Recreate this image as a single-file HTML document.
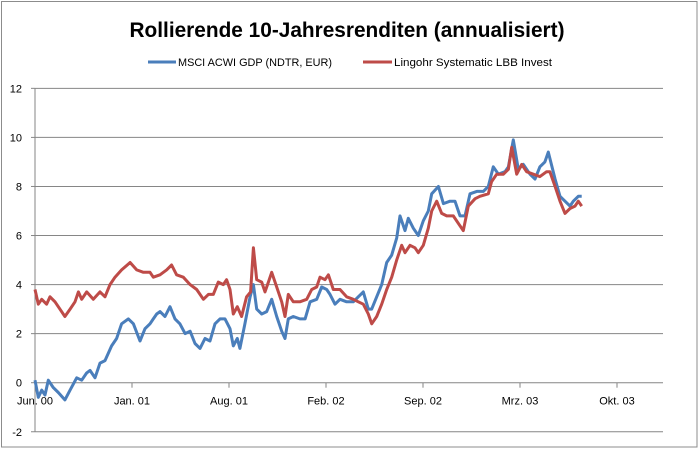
<!DOCTYPE html>
<html><head><meta charset="utf-8"><style>
html,body{margin:0;padding:0;background:#fff}
svg{display:block;font-family:"Liberation Sans",sans-serif}
</style></head><body>
<svg id="chart" width="699" height="449">
<rect x="1.5" y="1.5" width="695.5" height="445.5" fill="#fff" stroke="#8c8c8c"/>
<text x="347" y="37" text-anchor="middle" font-size="21" font-weight="bold" textLength="435" lengthAdjust="spacingAndGlyphs">Rollierende 10-Jahresrenditen (annualisiert)</text>
<g>
<g><line x1="148" y1="62" x2="176" y2="62" stroke="#4a7ebb" stroke-width="3"/><text x="178" y="66" font-size="11" textLength="154" lengthAdjust="spacingAndGlyphs">MSCI ACWI GDP  (NDTR, EUR)</text></g>
<g><line x1="363" y1="62" x2="392" y2="62" stroke="#be4b48" stroke-width="3"/><text x="394" y="66" font-size="11" textLength="158" lengthAdjust="spacingAndGlyphs">Lingohr Systematic  LBB Invest</text></g>
</g>
<g id="grid"></g>
<g id="axes"></g>
<g id="series"></g>
</svg>
<script>
const yTicks=[-2,0,2,4,6,8,10,12];
const xTickMonths=[0,7,14,21,28,35,42];
const xTickLabels=["Jun. 00","Jan. 01","Aug. 01","Feb. 02","Sep. 02","Mrz. 03","Okt. 03"];
const msciMonths=[0,0.24,0.48,0.72,0.96,1.32,1.68,2.16,2.53,3.01,3.37,3.73,3.97,4.33,4.69,5.05,5.53,5.89,6.25,6.74,7.10,7.58,7.94,8.30,8.54,8.78,9.02,9.38,9.74,10.10,10.46,10.83,11.19,11.55,11.91,12.27,12.63,12.99,13.35,13.71,14.07,14.31,14.60,14.79,15.15,15.52,15.76,16.00,16.36,16.72,17.08,17.44,17.80,18.04,18.28,18.64,19.12,19.49,19.85,20.33,20.69,21.05,21.29,21.65,22.01,22.49,22.97,23.33,23.69,24.05,24.30,24.66,25.02,25.38,25.74,26.10,26.34,26.70,26.94,27.30,27.66,28.02,28.38,28.63,29.11,29.47,29.95,30.31,30.67,31.03,31.39,31.88,32.35,32.71,33.07,33.44,33.92,34.16,34.52,34.88,35.24,35.72,36.08,36.44,36.80,37.04,37.53,37.89,38.25,38.61,38.85,39.21,39.45];
const msciValues=[0.1,-0.6,-0.3,-0.5,0.1,-0.2,-0.4,-0.7,-0.3,0.2,0.1,0.4,0.5,0.2,0.8,0.9,1.5,1.8,2.4,2.6,2.4,1.7,2.2,2.4,2.6,2.8,2.9,2.7,3.1,2.6,2.4,2.0,2.1,1.6,1.4,1.8,1.7,2.4,2.6,2.6,2.2,1.5,1.8,1.4,2.4,3.5,4.0,3.0,2.8,2.9,3.4,2.7,2.1,1.8,2.6,2.7,2.6,2.6,3.3,3.4,3.9,3.8,3.6,3.2,3.4,3.3,3.3,3.5,3.7,3.0,3.0,3.5,4.0,4.9,5.2,5.9,6.8,6.2,6.7,6.3,6.0,6.6,7.0,7.7,8.0,7.3,7.4,7.4,6.8,6.8,7.7,7.8,7.8,8.0,8.8,8.5,8.6,8.8,9.9,8.7,8.9,8.5,8.3,8.8,9.0,9.4,8.3,7.6,7.4,7.2,7.4,7.6,7.6];
const lingohrMonths=[0,0.24,0.48,0.84,1.08,1.44,1.80,2.16,2.53,2.89,3.13,3.37,3.73,4.21,4.69,5.05,5.41,5.77,6.25,6.86,7.34,7.82,8.30,8.54,9.02,9.50,9.86,10.22,10.70,11.19,11.67,12.15,12.51,12.87,13.23,13.59,13.83,14.07,14.31,14.60,14.91,15.27,15.56,15.76,16.00,16.36,16.60,16.84,17.08,17.44,17.80,18.04,18.28,18.64,19.12,19.61,19.97,20.33,20.57,20.93,21.17,21.53,22.01,22.49,22.97,23.33,23.69,24.05,24.30,24.66,25.02,25.38,25.74,26.10,26.46,26.70,27.06,27.42,27.66,28.02,28.38,28.63,28.99,29.35,29.71,30.19,30.55,30.91,31.27,31.76,32.11,32.71,32.95,33.32,33.80,34.16,34.40,34.76,35.12,35.48,35.96,36.44,36.92,37.16,37.53,37.89,38.25,38.61,38.97,39.21,39.45];
const lingohrValues=[3.8,3.2,3.4,3.2,3.5,3.3,3.0,2.7,3.0,3.3,3.7,3.4,3.7,3.4,3.7,3.5,4.0,4.3,4.6,4.9,4.6,4.5,4.5,4.3,4.4,4.6,4.8,4.4,4.3,4.0,3.8,3.4,3.6,3.6,4.1,4.0,4.2,3.8,2.8,3.1,2.7,3.5,3.7,5.5,4.2,4.1,3.7,4.1,4.5,3.9,3.3,2.7,3.6,3.3,3.3,3.4,3.8,3.9,4.3,4.2,4.4,3.8,3.8,3.5,3.4,3.3,3.2,2.8,2.4,2.7,3.2,3.8,4.3,5.0,5.6,5.3,5.6,5.5,5.3,5.6,6.3,7.0,7.4,6.9,6.8,6.8,6.5,6.2,7.2,7.5,7.6,7.7,8.2,8.5,8.5,8.7,9.6,8.5,8.9,8.6,8.5,8.4,8.6,8.6,8.0,7.4,6.9,7.1,7.2,7.4,7.2];

const NS="http://www.w3.org/2000/svg";
const X0=35,X1=663,Y0=382.7,PXU=24.53,PXM=13.857;
function xs(m){return X0+m*PXM;}
function ys(v){return Y0-v*PXU;}
function mk(tag,parent,attrs){const e=document.createElementNS(NS,tag);for(const k in attrs)e.setAttribute(k,attrs[k]);parent.appendChild(e);return e;}
const grid=document.getElementById('grid'),axes=document.getElementById('axes'),ser=document.getElementById('series');
yTicks.forEach(v=>{
  if(v!==0){const l=mk('line',grid,{x1:X0,x2:X1,y1:ys(v),y2:ys(v),stroke:'#868686','stroke-width':1});
  
  }
  const tk=mk('line',axes,{x1:X0-4,x2:X0,y1:ys(v),y2:ys(v),stroke:'#868686'});
  
  
  const t=mk('text',axes,{x:22,y:ys(v)+4,'text-anchor':'end','font-size':11});
  t.textContent=v;
  
  
});
const ya=mk('line',axes,{x1:X0,x2:X0,y1:ys(12),y2:ys(-2),stroke:'#868686'});


const xa=mk('line',axes,{x1:X0,x2:X1,y1:ys(0),y2:ys(0),stroke:'#868686'});


xTickMonths.forEach((m,i)=>{
  const tk=mk('line',axes,{x1:xs(m),x2:xs(m),y1:ys(0),y2:ys(0)+5,stroke:'#868686'});
  
  
  const t=mk('text',axes,{x:xs(m),y:ys(0)+22,'text-anchor':'middle','font-size':11});
  t.textContent=xTickLabels[i];
  
  
});
function line(ms,vs,color,name){
  const d=ms.map((m,i)=>(i?'L':'M')+xs(m).toFixed(1)+','+ys(vs[i]).toFixed(1)).join('');
  const p=mk('path',ser,{d:d,fill:'none',stroke:color,'stroke-width':3,'stroke-linejoin':'round'});
  
  
}
line(msciMonths,msciValues,'#4a7ebb','msci-acwi-line');
line(lingohrMonths,lingohrValues,'#be4b48','lingohr-line');
</script>
</body></html>
